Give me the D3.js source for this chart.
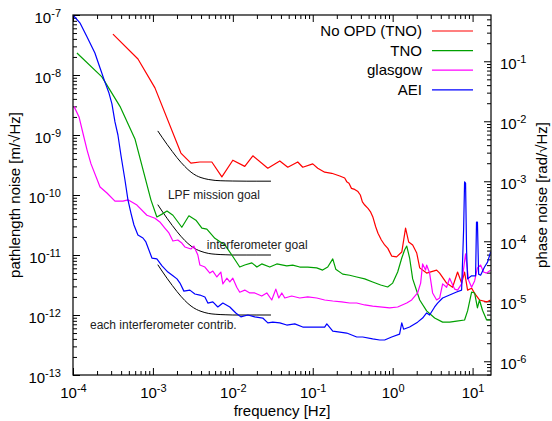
<!DOCTYPE html>
<html>
<head>
<meta charset="utf-8">
<script src="https://cdn.jsdelivr.net/npm/d3@7"></script>
<style>
  html, body { margin: 0; padding: 0; background: #fff; }
  svg { display: block; font-family: "Liberation Sans", Arial, Helvetica, sans-serif; }
</style>
</head>
<body>
<svg id="chart" width="552" height="421"></svg>
<script>
// ---- measured noise spectra (frequency in Hz, pathlength noise in m/sqrt(Hz)) ----
const freqNoOpd = [3.16e-4, 6.5e-4, 1.06e-3, 2.24e-3, 2.99e-3, 3.87e-3, 5.46e-3, 7.29e-3, 1.0e-2, 1.41e-2,
  1.78e-2, 2.74e-2, 3.87e-2, 4.87e-2, 6.49e-2, 7.5e-2, 0.1, 0.1155, 0.141, 0.173,
  0.218, 0.251, 0.266, 0.284, 0.305, 0.335, 0.368, 0.394, 0.418, 0.447,
  0.491, 0.526, 0.567, 0.613, 0.655, 0.722, 0.794, 0.87, 0.972, 1.12,
  1.30, 1.45, 1.585, 1.78, 2.0, 2.18, 2.66, 3.55, 3.87, 4.73,
  5.62, 6.49, 7.29, 7.94, 8.66, 9.72, 10.6, 12.2, 15.0, 16.8];
const noOpd = [4.8e-8, 1.85e-8, 6.1e-9, 5.0e-10, 3.4e-10, 3.55e-10, 3.55e-10, 2.0e-10, 3.8e-10, 3.0e-10,
  4.5e-10, 2.8e-10, 3.7e-10, 2.9e-10, 3.55e-10, 2.9e-10, 3.3e-10, 2.8e-10, 2.4e-10, 2.3e-10,
  2.07e-10, 1.92e-10, 1.67e-10, 1.57e-10, 1.29e-10, 1.24e-10, 1.14e-10, 1.0e-10, 7.7e-11, 6.8e-11,
  6.0e-11, 5.3e-11, 4.25e-11, 2.96e-11, 2.3e-11, 1.78e-11, 1.47e-11, 1.29e-11, 9.6e-12, 9.3e-12,
  1.12e-11, 2.8e-11, 1.65e-11, 1.47e-11, 1.08e-11, 6.1e-12, 5.0e-12, 5.6e-12, 5.0e-12, 3.4e-12,
  2.9e-12, 5.2e-12, 3.4e-12, 5.2e-12, 2.6e-12, 2.8e-12, 2.3e-12, 1.78e-12, 1.65e-12, 1.78e-12];

const freqTno = [1.12e-4, 2.3e-4, 3.87e-4, 5.96e-4, 9.44e-4, 1.12e-3, 1.3e-3, 1.5e-3, 1.78e-3, 2.3e-3,
  2.82e-3, 3.45e-3, 4.1e-3, 4.73e-3, 5.96e-3, 7.94e-3, 9.72e-3, 1.22e-2, 1.41e-2, 1.73e-2,
  2.0e-2, 2.3e-2, 2.9e-2, 3.55e-2, 4.73e-2, 5.62e-2, 6.88e-2, 8.66e-2, 0.112, 0.133,
  0.154, 0.178, 0.194, 0.237, 0.29, 0.355, 0.447, 0.562, 0.708, 0.866,
  1.0, 1.155, 1.3, 1.41, 1.5, 1.63, 1.78, 2.18, 2.66, 3.35,
  4.22, 5.16, 6.31, 7.94, 8.66, 9.72, 10.6, 11.5, 12.2, 13.3, 15.0, 16.8];
const tno = [2.33e-8, 9.3e-9, 3.0e-9, 8.6e-10, 8.3e-11, 4.3e-11, 4.8e-11, 5.4e-11, 4.6e-11, 2.9e-11,
  4.5e-11, 3.8e-11, 2.8e-11, 2.7e-11, 1.9e-11, 1.47e-11, 1.0e-11, 6.3e-12, 6.8e-12, 7.4e-12,
  6.3e-12, 7.1e-12, 6.3e-12, 7.1e-12, 6.6e-12, 6.8e-12, 6.3e-12, 6.3e-12, 6.1e-12, 5.6e-12,
  6.3e-12, 8.6e-12, 5.8e-12, 4.8e-12, 4.6e-12, 4.3e-12, 4.0e-12, 3.55e-12, 3.16e-12, 2.93e-12,
  3.4e-12, 5.2e-12, 8.9e-12, 1.21e-11, 1.41e-11, 8.9e-12, 4.0e-12, 1.78e-12, 1.17e-12, 8.9e-13,
  7.6e-13, 7.6e-13, 7.9e-13, 8.25e-13, 1.17e-12, 2.4e-12, 2.33e-12, 1.31e-12, 1.78e-12, 1.2e-12, 8.25e-13, 8.25e-13];

const freqGlasgow = [1.03e-4, 1.19e-4, 1.33e-4, 1.5e-4, 1.68e-4, 2.18e-4, 2.66e-4, 3.35e-4, 4.22e-4, 4.87e-4,
  6.31e-4, 8.41e-4, 1.06e-3, 1.22e-3, 1.41e-3, 1.585e-3, 1.78e-3, 2.05e-3, 2.3e-3, 2.51e-3,
  2.99e-3, 3.25e-3, 3.65e-3, 3.87e-3, 4.47e-3, 5.16e-3, 5.62e-3, 6.31e-3, 7.08e-3, 7.5e-3,
  8.41e-3, 9.17e-3, 1.0e-2, 1.12e-2, 1.22e-2, 1.41e-2, 1.63e-2, 1.88e-2, 2.3e-2, 2.66e-2,
  3.07e-2, 3.45e-2, 3.76e-2, 4.1e-2, 4.47e-2, 5.46e-2, 6.88e-2, 8.66e-2, 0.112, 0.141,
  0.178, 0.23, 0.29, 0.355, 0.447, 0.562, 0.917, 1.155, 1.5, 1.73,
  2.05, 2.24, 2.37, 2.58, 2.66, 2.9, 3.16, 3.55, 3.87, 4.22,
  4.73, 5.16, 5.62, 5.96, 6.49, 7.29, 8.17, 8.91, 9.72, 10.6,
  11.5, 12.6, 13.7, 15.0, 16.8];
const glasgow = [3.0e-9, 2.0e-9, 1.08e-9, 5.6e-10, 3.3e-10, 1.36e-10, 1.08e-10, 7.9e-11, 7.9e-11, 8.3e-11,
  6.8e-11, 4.6e-11, 4.1e-11, 3.55e-11, 2.8e-11, 2.33e-11, 1.71e-11, 1.78e-11, 1.58e-11, 1.36e-11,
  1.26e-11, 1.41e-11, 1.0e-11, 6.8e-12, 6.3e-12, 5.0e-12, 5.4e-12, 4.3e-12, 5.2e-12, 3.3e-12,
  4.1e-12, 3.55e-12, 4.1e-12, 2.9e-12, 2.4e-12, 2.6e-12, 2.33e-12, 2.33e-12, 2.07e-12, 2.33e-12,
  1.78e-12, 2.7e-12, 1.92e-12, 2.33e-12, 1.92e-12, 2.07e-12, 1.92e-12, 2.0e-12, 1.92e-12, 1.78e-12,
  1.71e-12, 1.65e-12, 1.585e-12, 1.585e-12, 1.47e-12, 1.41e-12, 1.31e-12, 1.36e-12, 1.585e-12, 1.78e-12,
  2.33e-12, 3.4e-12, 7.1e-12, 5.6e-12, 6.8e-12, 5.0e-12, 2.33e-12, 1.78e-12, 1.92e-12, 3.3e-12,
  2.9e-12, 4.1e-12, 3.2e-12, 2.7e-12, 2.6e-12, 3.3e-12, 1.05e-11, 3.8e-12, 2.9e-12, 3.7e-12,
  6.1e-12, 6.8e-12, 5.2e-12, 5.0e-12, 5.6e-12];

const freqAei = [1.0e-4, 1.22e-4, 1.5e-4, 1.88e-4, 2.18e-4, 2.51e-4, 2.82e-4, 3.07e-4, 3.35e-4, 3.65e-4,
  3.98e-4, 4.47e-4, 4.87e-4, 5.31e-4, 5.79e-4, 6.49e-4, 7.5e-4, 8.17e-4, 9.72e-4, 1.12e-3,
  1.3e-3, 1.54e-3, 1.78e-3, 2.0e-3, 2.18e-3, 2.44e-3, 2.9e-3, 3.35e-3, 3.87e-3, 4.47e-3,
  4.87e-3, 5.62e-3, 6.49e-3, 7.5e-3, 9.17e-3, 1.09e-2, 1.26e-2, 1.54e-2, 1.88e-2, 2.37e-2,
  2.74e-2, 3.16e-2, 3.87e-2, 4.73e-2, 5.96e-2, 7.5e-2, 0.1, 0.141, 0.15, 0.178,
  0.218, 0.266, 0.355, 0.422, 0.562, 0.688, 0.794, 0.972, 1.22, 1.3,
  1.37, 1.63, 2.05, 2.37, 2.66, 2.9, 3.35, 3.65, 4.22, 5.16,
  6.31, 7.29, 7.72, 7.94, 8.17, 8.41, 8.66, 9.72, 10.9, 11.2,
  11.5, 11.9, 12.6, 14.1, 15.4, 16.8];
const aei = [1.0e-7, 7.4e-8, 4.3e-8, 2.33e-8, 1.31e-8, 7.6e-9, 5.0e-9, 3.3e-9, 1.65e-9, 1.0e-9,
  4.6e-10, 1.78e-10, 8.3e-11, 5.0e-11, 3.16e-11, 2.15e-11, 1.92e-11, 1.65e-11, 8.9e-12, 8.6e-12,
  6.6e-12, 5.2e-12, 4.5e-12, 4.0e-12, 3.4e-12, 2.5e-12, 2.6e-12, 2.24e-12, 2.15e-12, 2.0e-12,
  1.58e-12, 1.65e-12, 1.36e-12, 1.58e-12, 1.36e-12, 1.08e-12, 9.3e-13, 1.0e-12, 9.3e-13, 8.9e-13,
  7.4e-13, 7.6e-13, 7.4e-13, 6.8e-13, 7.1e-13, 6.3e-13, 6.3e-13, 6.3e-13, 7.1e-13, 5.4e-13,
  5.2e-13, 5.0e-13, 4.3e-13, 4.3e-13, 4.0e-13, 3.83e-13, 3.83e-13, 4.3e-13, 4.8e-13, 7.4e-13,
  5.8e-13, 6.3e-13, 7.6e-13, 8.9e-13, 1.08e-12, 1.0e-12, 1.36e-12, 1.58e-12, 1.92e-12, 2.15e-12,
  2.42e-12, 2.6e-12, 2.6e-11, 1.65e-10, 1.58e-10, 1.21e-11, 4.0e-12, 4.5e-12, 4.5e-12, 3.55e-11,
  3.55e-11, 4.8e-12, 4.6e-12, 6.3e-12, 7.6e-12, 1.12e-11];

// ---- requirement curves ----
const goalFreq = [1.15e-3, 1.3e-3, 1.5e-3, 1.75e-3, 2e-3, 2.5e-3, 3e-3, 3.5e-3, 4e-3, 5e-3, 6e-3, 8e-3, 1e-2, 1.5e-2, 2e-2, 3e-2];
const lpfMissionGoal = [1.17e-9, 9.2e-10, 7.0e-10, 5.3e-10, 4.2e-10, 3.0e-10, 2.4e-10, 2.1e-10, 1.95e-10, 1.81e-10, 1.75e-10, 1.72e-10, 1.71e-10, 1.7e-10, 1.7e-10, 1.7e-10];
const interferometerGoal = [6.9e-11, 5.4e-11, 4.1e-11, 3.1e-11, 2.46e-11, 1.75e-11, 1.41e-11, 1.24e-11, 1.15e-11, 1.06e-11, 1.03e-11, 1.01e-11, 1.0e-11, 1.0e-11, 1.0e-11, 1.0e-11];
const interferometerContrib = [6.9e-12, 5.4e-12, 4.1e-12, 3.1e-12, 2.46e-12, 1.75e-12, 1.41e-12, 1.24e-12, 1.15e-12, 1.06e-12, 1.03e-12, 1.01e-12, 1.0e-12, 1.0e-12, 1.0e-12, 1.0e-12];

// ---- axes ----
const freqDomain = [1e-4, 17];
const pathDomain = [1e-13, 1e-7];
const laserWavelength = 1.064e-6; // m, converts pathlength to phase
const xTickExponents = [-4, -3, -2, -1, 0, 1];
const yTickExponents = [-13, -12, -11, -10, -9, -8, -7];
const y2TickExponents = [-6, -5, -4, -3, -2, -1];

const seriesNames = ["No OPD (TNO)", "TNO", "glasgow", "AEI"];
const seriesColors = ["#ff0000", "#00a000", "#ff00ff", "#0000ff"];
const seriesFreqs = [freqNoOpd, freqTno, freqGlasgow, freqAei];
const seriesValues = [noOpd, tno, glasgow, aei];

// ---- drawing ----
const svg = d3.select("#chart");
const plot = { left: 73, right: 491, top: 15, bottom: 375 };
const FONT = 15, SUP = 11;

const x = d3.scaleLog().domain(freqDomain).range([plot.left, plot.right]);
const y = d3.scaleLog().domain(pathDomain).range([plot.bottom, plot.top]);
const phasePerMeter = 2 * Math.PI / laserWavelength;
const y2 = d3.scaleLog().domain(pathDomain.map(v => v * phasePerMeter)).range([plot.bottom, plot.top]);

function minorTicks(scale) {
  const [a, b] = scale.domain();
  const out = [];
  for (let e = Math.floor(Math.log10(a)); e <= Math.ceil(Math.log10(b)); e++) {
    for (let m = 2; m <= 9; m++) {
      const v = m * Math.pow(10, e);
      if (v >= a && v <= b) out.push(v);
    }
  }
  return out;
}

const MAJ = 7, MIN = 4;

function powerLabel(sel, exps) {
  sel.selectAll(".tick text").each(function(d, i) {
    const t = d3.select(this);
    t.text(null).attr("dy", null).attr("font-size", FONT).attr("fill", "#000");
    t.append("tspan").text("10");
    t.append("tspan").attr("font-size", SUP).attr("dy", -6).text(String(exps[i]));
  });
}

function axisGroup(gen, tx, ty) {
  const g = svg.append("g").attr("transform", `translate(${tx},${ty})`).call(gen);
  g.select(".domain").remove();
  g.selectAll(".tick line").attr("stroke", "#000");
  return g;
}

// bottom axis
axisGroup(d3.axisBottom(x).tickValues(minorTicks(x)).tickSize(-MIN).tickSizeOuter(0).tickFormat(""), 0, plot.bottom);
const gxb = axisGroup(d3.axisBottom(x).tickValues(xTickExponents.map(e => Math.pow(10, e))).tickSize(-MAJ).tickSizeOuter(0), 0, plot.bottom);
powerLabel(gxb, xTickExponents);
gxb.selectAll(".tick text").attr("y", 23);

// top mirror
axisGroup(d3.axisTop(x).tickValues(minorTicks(x)).tickSize(-MIN).tickSizeOuter(0).tickFormat(""), 0, plot.top);
axisGroup(d3.axisTop(x).tickValues(xTickExponents.map(e => Math.pow(10, e))).tickSize(-MAJ).tickSizeOuter(0).tickFormat(""), 0, plot.top);

// left axis
axisGroup(d3.axisLeft(y).tickValues(minorTicks(y)).tickSize(-MIN).tickSizeOuter(0).tickFormat(""), plot.left, 0);
const gyl = axisGroup(d3.axisLeft(y).tickValues(yTickExponents.map(e => Math.pow(10, e))).tickSize(-MAJ).tickSizeOuter(0), plot.left, 0);
powerLabel(gyl, yTickExponents);
gyl.selectAll(".tick text").attr("x", -12).attr("y", 7.5);

// right axis (phase)
axisGroup(d3.axisRight(y2).tickValues(minorTicks(y2)).tickSize(-MIN).tickSizeOuter(0).tickFormat(""), plot.right, 0);
const gyr = axisGroup(d3.axisRight(y2).tickValues(y2TickExponents.map(e => Math.pow(10, e))).tickSize(-MAJ).tickSizeOuter(0), plot.right, 0);
powerLabel(gyr, y2TickExponents);
gyr.selectAll(".tick text").attr("x", 9).attr("y", 7.5);

// clip for data
svg.append("clipPath").attr("id", "plotClip").append("rect")
  .attr("x", plot.left).attr("y", plot.top)
  .attr("width", plot.right - plot.left).attr("height", plot.bottom - plot.top);

const line = d3.line().x(d => x(d[0])).y(d => y(d[1]));
const smooth = d3.line().x(d => x(d[0])).y(d => y(d[1])).curve(d3.curveMonotoneX);

const gData = svg.append("g").attr("clip-path", "url(#plotClip)");

// requirement curves
[lpfMissionGoal, interferometerGoal, interferometerContrib].forEach(vals => {
  gData.append("path")
    .datum(goalFreq.map((f, i) => [f, vals[i]]))
    .attr("d", smooth)
    .attr("fill", "none")
    .attr("stroke", "#000")
    .attr("stroke-width", 1);
});

// measured spectra
seriesNames.forEach((name, k) => {
  gData.append("path")
    .datum(seriesFreqs[k].map((f, i) => [f, seriesValues[k][i]]))
    .attr("d", line)
    .attr("fill", "none")
    .attr("stroke", seriesColors[k])
    .attr("stroke-width", 1.2)
    .attr("stroke-linejoin", "round");
});

// frame
svg.append("rect")
  .attr("x", plot.left).attr("y", plot.top)
  .attr("width", plot.right - plot.left).attr("height", plot.bottom - plot.top)
  .attr("fill", "none").attr("stroke", "#000").attr("stroke-width", 1.2);

// curve annotations, anchored in data coordinates
const notes = [
  { text: "LPF mission goal", f: 1.54e-3, v: 8.6e-11 },
  { text: "interferometer goal", f: 4.73e-3, v: 1.26e-11 },
  { text: "each interferometer contrib.", f: 1.63e-4, v: 5.84e-13 }
];
svg.append("g").selectAll("text").data(notes).join("text")
  .attr("x", d => x(d.f)).attr("y", d => y(d.v))
  .attr("font-size", 12).attr("fill", "#222")
  .text(d => d.text);

// legend
const legend = svg.append("g");
seriesNames.forEach((name, k) => {
  const ly = 31 + k * 19.6;
  legend.append("text").attr("x", 422).attr("y", ly + 5)
    .attr("text-anchor", "end").attr("font-size", FONT).attr("fill", "#000").text(name);
  legend.append("line").attr("x1", 432).attr("x2", 473).attr("y1", ly).attr("y2", ly)
    .attr("stroke", seriesColors[k]).attr("stroke-width", 1.2);
});

// axis titles
svg.append("text").attr("x", (plot.left + plot.right) / 2).attr("y", 416)
  .attr("text-anchor", "middle").attr("font-size", FONT).text("frequency [Hz]");
svg.append("text").attr("transform", `translate(20,${(plot.top + plot.bottom) / 2}) rotate(-90)`)
  .attr("text-anchor", "middle").attr("font-size", FONT).text("pathlength noise [m/\u221AHz]");
svg.append("text").attr("transform", `translate(547,${(plot.top + plot.bottom) / 2}) rotate(-90)`)
  .attr("text-anchor", "middle").attr("font-size", FONT).text("phase noise [rad/\u221AHz]");
</script>
</body>
</html>
